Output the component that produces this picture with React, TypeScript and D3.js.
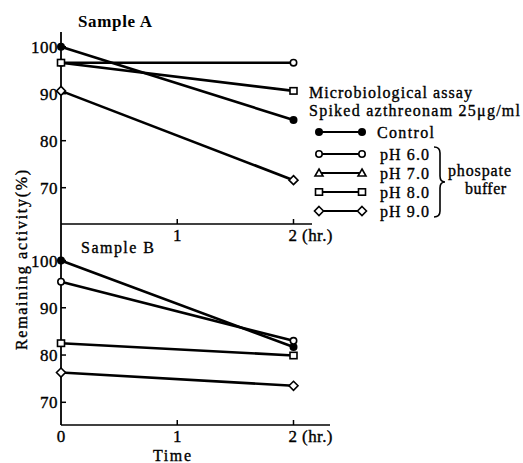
import React from "react";
import * as d3 from "d3";

const times = [0, 2];
const seriesNames = ["Control", "pH 6.0", "pH 7.0", "pH 8.0", "pH 9.0"];
const seriesMarkers = ["filled", "circle", "triangle", "square", "diamond"];
const sampleA_Control = [100, 84.4];
const sampleA_pH6 = [96.6, 96.6];
const sampleA_pH8 = [96.6, 90.6];
const sampleA_pH9 = [90.6, 71.6];
const sampleB_Control = [100, 81.7];
const sampleB_pH6 = [95.5, 83.0];
const sampleB_pH8 = [82.5, 79.9];
const sampleB_pH9 = [76.3, 73.5];
const yTicks = [70, 80, 90, 100];
const xTicksA = [1, 2];
const xTicksB = [0, 1, 2];

const FONT = "'Liberation Serif', 'DejaVu Serif', serif";
const TS = { fontFamily: FONT, stroke: "#000", strokeWidth: 0.35 } as React.CSSProperties;

function Marker({ type, x, y }: { type: string; x: number; y: number }) {
  const sw = 1.6;
  if (type === "filled") return <circle cx={x} cy={y} r={4} fill="#000" />;
  if (type === "circle") return <circle cx={x} cy={y} r={3.2} fill="#fff" stroke="#000" strokeWidth={sw} />;
  if (type === "square") return <rect x={x - 3.5} y={y - 3.2} width={7} height={6.4} fill="#fff" stroke="#000" strokeWidth={sw} />;
  if (type === "triangle") return <path d={`M${x},${y - 4}L${x + 4},${y + 3}L${x - 4},${y + 3}Z`} fill="#fff" stroke="#000" strokeWidth={sw} />;
  if (type === "diamond") return <path d={`M${x},${y - 4.5}L${x + 4.5},${y}L${x},${y + 4.5}L${x - 4.5},${y}Z`} fill="#fff" stroke="#000" strokeWidth={sw} />;
  return null;
}

export default function App() {
  const x = d3.scaleLinear().domain([0, 2]).range([61, 293.5]);
  const yA = d3.scaleLinear().domain([70, 100]).range([187.7, 46.7]);
  const yB = d3.scaleLinear().domain([70, 100]).range([402.3, 260.5]);

  const panelA = [
    { v: sampleA_Control, m: "filled" },
    { v: sampleA_pH6, m: "circle" },
    { v: sampleA_pH8, m: "square" },
    { v: sampleA_pH9, m: "diamond" },
  ];
  const panelB = [
    { v: sampleB_Control, m: "filled" },
    { v: sampleB_pH6, m: "circle" },
    { v: sampleB_pH8, m: "square" },
    { v: sampleB_pH9, m: "diamond" },
  ];

  const line = (y: d3.ScaleLinear<number, number>) =>
    d3.line<number>().x((_, i) => x(times[i])).y((d) => y(d));

  const drawPanel = (data: typeof panelA, y: d3.ScaleLinear<number, number>) => (
    <g>
      {data.map((s, i) => (
        <path key={"l" + i} d={line(y)(s.v) || ""} fill="none" stroke="#000" strokeWidth={2.6} />
      ))}
      {data.map((s, i) =>
        s.v.map((v, j) => <Marker key={`m${i}-${j}`} type={s.m} x={x(times[j])} y={y(v)} />)
      )}
    </g>
  );

  const legendYs = [132, 154, 173, 192, 211];
  const tickLabel = (t: number, yy: number, key: string) =>
    t === 2 ? (
      <text key={key} x={x(t) - 5} y={yy} fontSize={17} style={TS} textLength={44} lengthAdjust="spacing">2 (hr.)</text>
    ) : (
      <text key={key} x={x(t)} y={yy} fontSize={17} style={TS} textAnchor="middle">{String(t)}</text>
    );

  return (
    <svg width={523} height={463} style={{ position: "absolute", left: 0, top: 0, background: "#fff", fontFamily: FONT }}>
      <rect width={523} height={463} fill="#fff" />
      {/* axes */}
      <line x1={61} x2={61} y1={32} y2={425} stroke="#000" strokeWidth={1.8} />
      <line x1={61} x2={312} y1={224} y2={224} stroke="#000" strokeWidth={1.6} />
      <line x1={61} x2={330} y1={425} y2={425} stroke="#000" strokeWidth={1.6} />
      {yTicks.map((t) => (
        <g key={"ya" + t}>
          <line x1={61} x2={66} y1={yA(t)} y2={yA(t)} stroke="#000" strokeWidth={1.5} />
          <text x={58} y={yA(t) + 6} textAnchor="end" fontSize={17} style={TS} letterSpacing={0.5}>{t}</text>
        </g>
      ))}
      {yTicks.map((t) => (
        <g key={"yb" + t}>
          <line x1={61} x2={66} y1={yB(t)} y2={yB(t)} stroke="#000" strokeWidth={1.5} />
          <text x={58} y={yB(t) + 6} textAnchor="end" fontSize={17} style={TS} letterSpacing={0.5}>{t}</text>
        </g>
      ))}
      {xTicksA.map((t) => (
        <g key={"xa" + t}>
          <line x1={x(t)} x2={x(t)} y1={224} y2={219} stroke="#000" strokeWidth={1.5} />
          {tickLabel(t, 241, "ta" + t)}
        </g>
      ))}
      {xTicksB.map((t) => (
        <g key={"xb" + t}>
          {t !== 0 && <line x1={x(t)} x2={x(t)} y1={425} y2={420} stroke="#000" strokeWidth={1.5} />}
          {tickLabel(t, 442, "tb" + t)}
        </g>
      ))}
      <text x={78} y={27} fontSize={17} fontWeight="bold" style={{ fontFamily: FONT }} textLength={74} lengthAdjust="spacing">Sample A</text>
      <text x={81} y={253} fontSize={16} style={TS} textLength={73} lengthAdjust="spacing">Sample B</text>
      <text x={153} y={461} fontSize={16} style={TS} textLength={38} lengthAdjust="spacing">Time</text>
      <text transform="translate(27,350) rotate(-90)" fontSize={16} style={TS} textLength={180} lengthAdjust="spacing">Remaining activity(%)</text>

      {drawPanel(panelA, yA)}
      {drawPanel(panelB, yB)}

      {/* legend */}
      <text x={309} y={98} fontSize={16} style={TS} textLength={163} lengthAdjust="spacing">Microbiological assay</text>
      <text x={309} y={116} fontSize={16} style={TS} textLength={211} lengthAdjust="spacing">Spiked azthreonam 25μg/ml</text>
      {seriesNames.map((n, i) => (
        <g key={"lg" + i}>
          <line x1={319} x2={362} y1={legendYs[i]} y2={legendYs[i]} stroke="#000" strokeWidth={2} />
          <Marker type={seriesMarkers[i]} x={319} y={legendYs[i]} />
          <Marker type={seriesMarkers[i]} x={362} y={legendYs[i]} />
          <text x={i === 0 ? 377 : 380} y={legendYs[i] + 6} fontSize={16} style={TS} textLength={i === 0 ? 57 : 49} lengthAdjust="spacing">{n}</text>
        </g>
      ))}
      <path d="M434,147 Q440,147 440,153 L440,176 Q440,182 445,182 Q440,182 440,188 L440,211 Q440,217 434,217" fill="none" stroke="#000" strokeWidth={1.6} />
      <text x={448} y={176} fontSize={16} style={TS} textLength={63} lengthAdjust="spacing">phospate</text>
      <text x={465} y={194} fontSize={16} style={TS} textLength={41} lengthAdjust="spacing">buffer</text>
    </svg>
  );
}
